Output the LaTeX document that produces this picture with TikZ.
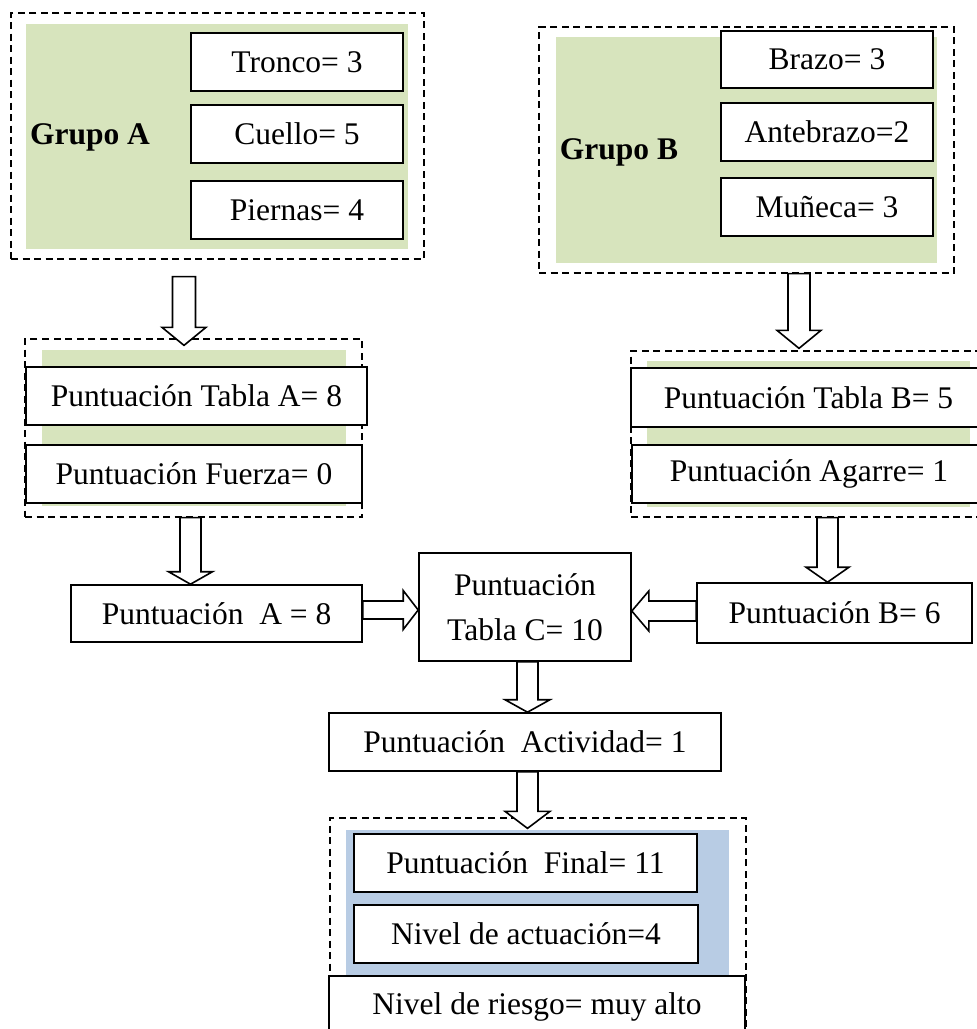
\documentclass[tikz,border=0pt]{standalone}
\usepackage{fontspec}
\setmainfont{Liberation Serif}
\usetikzlibrary{calc}

\definecolor{paneGreen}{HTML}{D7E4BD}
\definecolor{paneBlue}{HTML}{B8CCE4}

% vertical block arrow: start point, tip point, shaft half-width, head half-width, head length
\newcommand{\vblock}[5]{%
  \draw[blockarrow] let \p1=#1, \p2=#2 in
    (\x2-#3pt,\y1) -- (\x2-#3pt,\y2+#5pt) -- (\x2-#4pt,\y2+#5pt) -- (\x2,\y2)
    -- (\x2+#4pt,\y2+#5pt) -- (\x2+#3pt,\y2+#5pt) -- (\x2+#3pt,\y1) -- cycle;}
% horizontal block arrow pointing right
\newcommand{\rblock}[5]{%
  \draw[blockarrow] let \p1=#1, \p2=#2 in
    (\x1,\y2+#3pt) -- (\x2-#5pt,\y2+#3pt) -- (\x2-#5pt,\y2+#4pt) -- (\x2,\y2)
    -- (\x2-#5pt,\y2-#4pt) -- (\x2-#5pt,\y2-#3pt) -- (\x1,\y2-#3pt) -- cycle;}
% horizontal block arrow pointing left
\newcommand{\lblock}[5]{%
  \draw[blockarrow] let \p1=#1, \p2=#2 in
    (\x1,\y2+#3pt) -- (\x2+#5pt,\y2+#3pt) -- (\x2+#5pt,\y2+#4pt) -- (\x2,\y2)
    -- (\x2+#5pt,\y2-#4pt) -- (\x2+#5pt,\y2-#3pt) -- (\x1,\y2-#3pt) -- cycle;}

\begin{document}
\begin{tikzpicture}[x=1pt,y=-1pt,
  font=\fontsize{31.5}{45}\selectfont,
  box/.style={draw, line width=1.6pt, fill=white, inner sep=0pt, align=center},
  frame/.style={draw, dash pattern=on 7pt off 4.5pt, line width=1.3pt, inner sep=0pt},
  greenbg/.style={fill=paneGreen, inner sep=0pt},
  bluebg/.style={fill=paneBlue, inner sep=0pt},
  blockarrow/.style={draw, fill=white, line width=1.6pt, line join=miter}
]
\useasboundingbox (0,0) rectangle (977,1029);
\clip (0,0) rectangle (977,1029);

% ---- Grupo A ----
\node[frame, minimum width=413pt, minimum height=246pt] (gA) at (217.5,136) {};
\node[greenbg, minimum width=382pt, minimum height=225pt] (gAbg) at (217,136.5) {};
\node[font=\fontsize{31.5}{45}\selectfont\bfseries] (gAlbl) at (90,137) {Grupo A};
\node[box, minimum width=212pt, minimum height=58pt] (tronco) at (297,62) {Tronco= 3};
\node[box, minimum width=212pt, minimum height=58pt] (cuello) at (297,134) {Cuello= 5};
\node[box, minimum width=212pt, minimum height=58pt] (piernas) at (297,210) {Piernas= 4};

% ---- Grupo B ----
\node[frame, minimum width=415pt, minimum height=246pt] (gB) at (746.5,150) {};
\node[greenbg, minimum width=381pt, minimum height=226pt] (gBbg) at (746.5,150) {};
\node[font=\fontsize{31.5}{45}\selectfont\bfseries] (gBlbl) at (619,152) {Grupo B};
\node[box, minimum width=212pt, minimum height=57pt] (brazo) at (827,59.5) {Brazo= 3};
\node[box, minimum width=212pt, minimum height=58pt] (antebrazo) at (827,132) {Antebrazo=2};
\node[box, minimum width=212pt, minimum height=58pt] (muneca) at (827,207) {Muñeca= 3};

% ---- Tabla A ----
\node[frame, minimum width=337pt, minimum height=178pt] (tabAf) at (193.5,428) {};
\node[greenbg, minimum width=304pt, minimum height=156pt] (tabAbg) at (194,428) {};
\node[box, minimum width=341pt, minimum height=58pt] (tabA) at (196.5,396) {Puntuación Tabla A= 8};
\node[box, minimum width=336pt, minimum height=58pt] (fuerza) at (194,474) {Puntuación Fuerza= 0};

% ---- Tabla B ----
\node[frame, minimum width=357pt, minimum height=166pt] (tabBf) at (809.5,434) {};
\node[greenbg, minimum width=323pt, minimum height=146pt] (tabBbg) at (808.5,434) {};
\node[box, minimum width=355pt, minimum height=59pt] (tabB) at (808.5,397.5) {Puntuación Tabla B= 5};
\node[box, minimum width=354pt, minimum height=58pt] (agarre) at (809,474) {Puntuación Agarre= 1};

% ---- middle row ----
\node[box, minimum width=291pt, minimum height=57pt] (puntA) at (216.5,613.5) {Puntuación~ A = 8};
\node[box, minimum width=212pt, minimum height=108pt] (tabC) at (525,607) {Puntuación\\Tabla C= 10};
\node[box, minimum width=275pt, minimum height=60pt] (puntB) at (834.5,613) {Puntuación B= 6};
\node[box, minimum width=392pt, minimum height=58pt] (activ) at (525,742) {Puntuación~ Actividad= 1};

% ---- final group ----
\node[frame, minimum width=416pt, minimum height=230pt] (gF) at (538,933) {};
\node[bluebg, minimum width=383pt, minimum height=145pt] (gFbg) at (537.5,902.5) {};
\node[box, minimum width=343pt, minimum height=58pt] (final) at (525.5,863) {Puntuación~ Final= 11};
\node[box, minimum width=344pt, minimum height=58pt] (actuacion) at (526,934) {Nivel de actuación=4};
\node[box, minimum width=416pt, minimum height=62pt] (riesgo) at (537,1007) {Nivel de riesgo= muy alto};

% ---- block arrows ----
\vblock{($(gA.south)+(0,17)$)}{($(tabAf.north)+(-9.5,7)$)}{11.5}{22}{18}
\vblock{(gB.south)}{($(tabBf.north)+(-10.5,-2)$)}{11}{22}{18}
\vblock{(tabAf.south)}{($(puntA.north)+(-26,0)$)}{10.5}{22}{12.5}
\vblock{(tabBf.south)}{($(puntB.north)+(-7,0)$)}{10.5}{21.5}{15}
\rblock{(puntA.east)}{($(tabC.west)+(0,3)$)}{9}{19.5}{15}
\lblock{(puntB.west)}{($(tabC.east)+(0,4)$)}{10}{20}{17}
\vblock{(tabC.south)}{($(activ.north)+(2.5,0)$)}{10.5}{22.5}{12.5}
\vblock{(activ.south)}{($(gF.north)+(-10.5,11)$)}{10.5}{22.5}{17}
\end{tikzpicture}
\end{document}
